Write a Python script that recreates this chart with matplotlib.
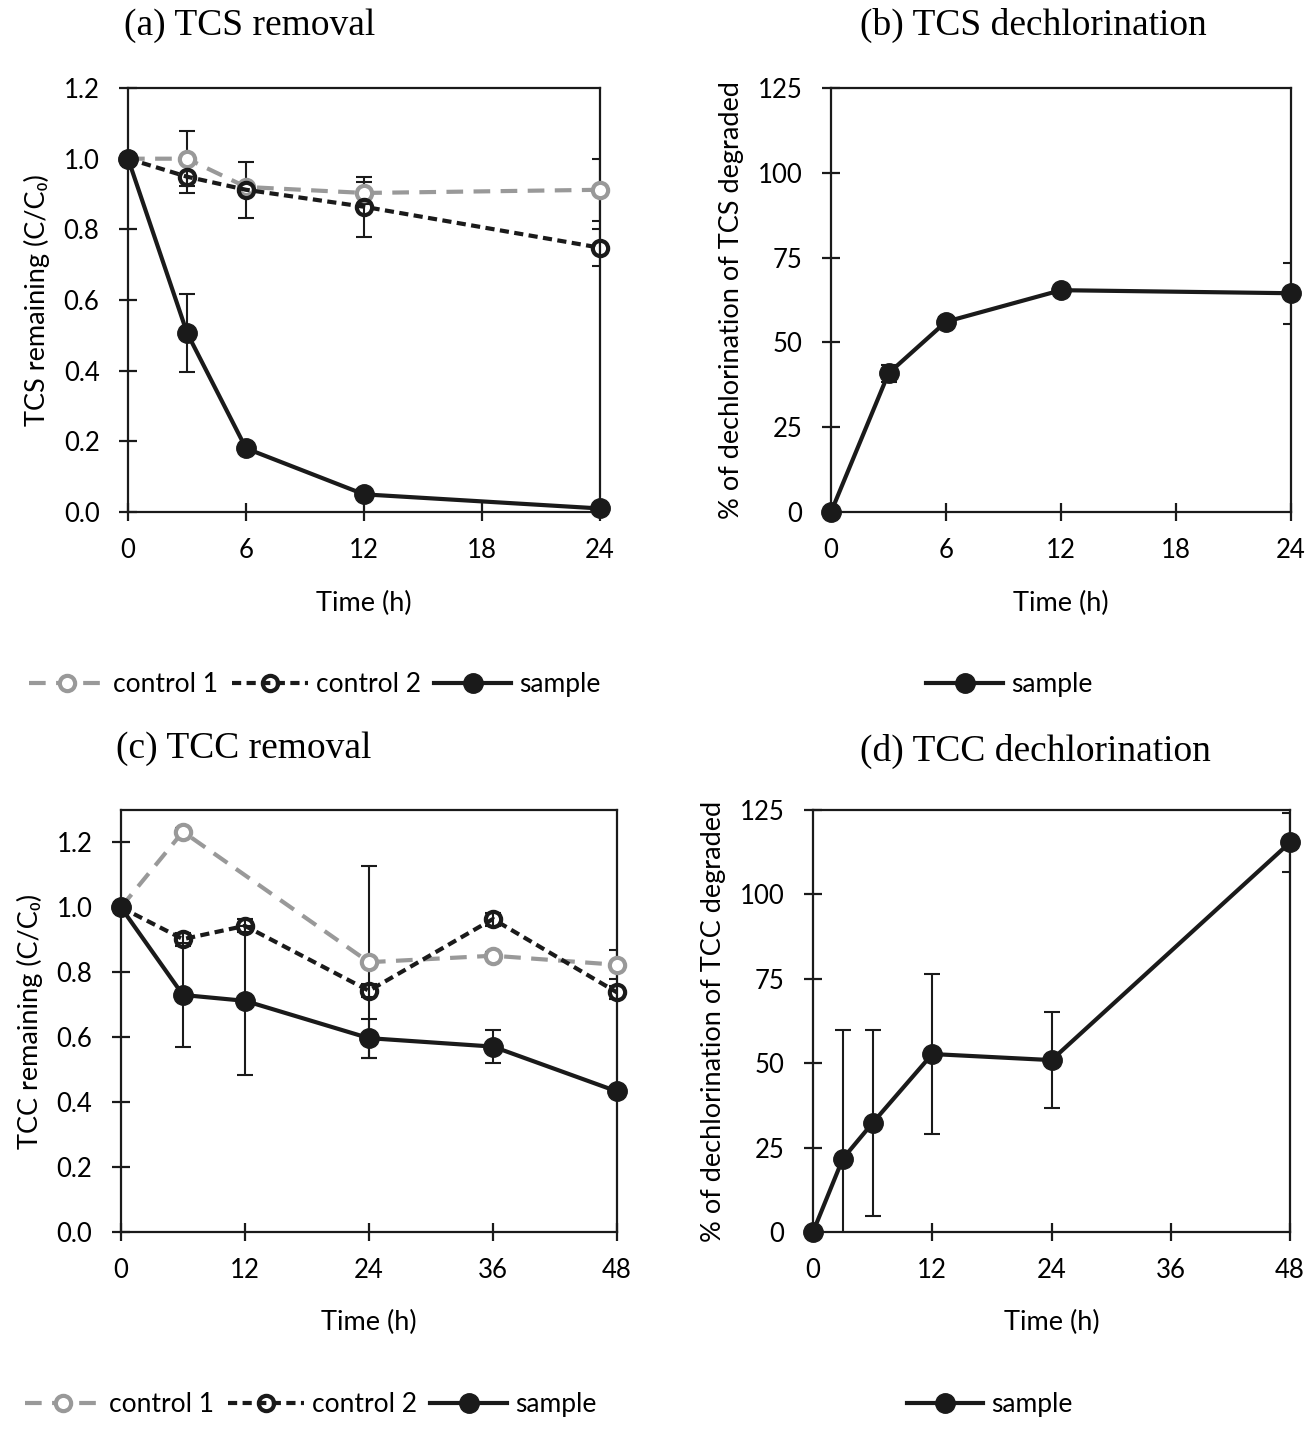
import matplotlib.pyplot as plt
import numpy as np

# ---------------- data ----------------
tcs_time = [0, 3, 6, 12, 24]
tcs_ctrl1 = [1.0, 1.0, 0.92, 0.903, 0.912]
tcs_ctrl1_err = [0, 0.078, 0.01, 0.031, 0.087]
tcs_ctrl2 = [1.0, 0.949, 0.912, 0.864, 0.748]
tcs_ctrl2_err = [0, 0.045, 0.08, 0.085, 0.052]
tcs_sample = [1.0, 0.507, 0.18, 0.05, 0.01]
tcs_sample_err = [0, 0.11, 0.01, 0.01, 0.005]

tcs_dechl = [0, 40.9, 56.1, 65.4, 64.5]
tcs_dechl_err = [0, 2.5, 1.5, 1.0, 9.0]

tcc_time = [0, 6, 12, 24, 36, 48]
tcc_ctrl1_time = [0, 6, 24, 36, 48]
tcc_ctrl1 = [1.0, 1.233, 0.831, 0.851, 0.823]
tcc_ctrl1_err = [0, 0.01, 0.296, 0.01, 0.045]
tcc_ctrl2 = [1.0, 0.902, 0.943, 0.743, 0.964, 0.738]
tcc_ctrl2_err = [0, 0.02, 0.02, 0.02, 0.02, 0.02]
tcc_sample = [1.0, 0.730, 0.712, 0.597, 0.571, 0.433]
tcc_sample_err = [0, 0.16, 0.23, 0.06, 0.052, 0.01]

tcc_dechl_time = [0, 3, 6, 12, 24, 48]
tcc_dechl = [0, 21.7, 32.3, 52.7, 50.9, 115.4]
tcc_dechl_err = [0, 38.1, 27.5, 23.8, 14.2, 8.8]

# ---------------- style ----------------
plt.rcParams['font.family'] = ['Lato', 'DejaVu Sans']
plt.rcParams['font.size'] = 18
GRAY = '#999999'
BLACK = '#1a1a1a'
serif = ['Liberation Serif', 'DejaVu Serif']

fig = plt.figure(figsize=(13.16, 14.29), dpi=100)

ax_a = fig.add_axes([0.0973, 0.6417, 0.3587, 0.2967])
ax_b = fig.add_axes([0.6315, 0.6417, 0.3495, 0.2967])
ax_c = fig.add_axes([0.0919, 0.1379, 0.3769, 0.2953])
ax_d = fig.add_axes([0.6178, 0.1379, 0.3625, 0.2953])


def style_axes(ax):
    for s in ax.spines.values():
        s.set_linewidth(1.6)
        s.set_color(BLACK)
    ax.tick_params(direction='inout', length=13, width=1.6, color=BLACK,
                   labelsize=18.5)
    ax.tick_params(axis='y', pad=14)
    ax.tick_params(axis='x', pad=12)


def errs(ax, t, y, e):
    ax.errorbar(t, y, yerr=e, fmt='none', ecolor=BLACK, elinewidth=1.5,
                capsize=6, capthick=1.5, zorder=2)


def ctrl1(ax, t, y, e):
    errs(ax, t, y, e)
    ax.plot(t, y, color=GRAY, lw=3, dashes=(4, 2.5),
            marker='o', ms=11, mfc='white', mec=GRAY, mew=3,
            clip_on=False, label='control 1', zorder=3)


def ctrl2(ax, t, y, e):
    errs(ax, t, y, e)
    ax.plot(t, y, color=BLACK, lw=3, dashes=(2.2, 1.3),
            marker='o', ms=11, mfc='none', mec=BLACK, mew=3,
            clip_on=False, label='control 2', zorder=4)


def sample(ax, t, y, e):
    errs(ax, t, y, e)
    ax.plot(t, y, color=BLACK, lw=3,
            marker='o', ms=14, mfc=BLACK, mec=BLACK,
            clip_on=False, label='sample', zorder=5)


# (a)
ctrl1(ax_a, tcs_time, tcs_ctrl1, tcs_ctrl1_err)
ctrl2(ax_a, tcs_time, tcs_ctrl2, tcs_ctrl2_err)
sample(ax_a, tcs_time, tcs_sample, tcs_sample_err)
ax_a.set_xlim(0, 24)
ax_a.set_ylim(0, 1.2)
ax_a.set_xticks([0, 6, 12, 18, 24])
ax_a.set_yticks(np.arange(0, 1.21, 0.2))
ax_a.yaxis.set_major_formatter(plt.FormatStrFormatter('%.1f'))
ax_a.set_xlabel('Time (h)', fontsize=19.5, labelpad=20)
ax_a.set_ylabel('TCS remaining (C/C₀)', fontsize=19.5, labelpad=10)
style_axes(ax_a)

# (b)
sample(ax_b, tcs_time, tcs_dechl, tcs_dechl_err)
ax_b.set_xlim(0, 24)
ax_b.set_ylim(0, 125)
ax_b.set_xticks([0, 6, 12, 18, 24])
ax_b.set_yticks([0, 25, 50, 75, 100, 125])
ax_b.set_xlabel('Time (h)', fontsize=19.5, labelpad=20)
ax_b.set_ylabel('% of dechlorination of TCS degraded', fontsize=19.5, labelpad=10)
style_axes(ax_b)

# (c)
ctrl1(ax_c, tcc_ctrl1_time, tcc_ctrl1, tcc_ctrl1_err)
ctrl2(ax_c, tcc_time, tcc_ctrl2, tcc_ctrl2_err)
sample(ax_c, tcc_time, tcc_sample, tcc_sample_err)
ax_c.set_xlim(0, 48)
ax_c.set_ylim(0, 1.3)
ax_c.set_xticks([0, 12, 24, 36, 48])
ax_c.set_yticks(np.arange(0, 1.21, 0.2))
ax_c.yaxis.set_major_formatter(plt.FormatStrFormatter('%.1f'))
ax_c.set_xlabel('Time (h)', fontsize=19.5, labelpad=20)
ax_c.set_ylabel('TCC remaining (C/C₀)', fontsize=19.5, labelpad=10)
style_axes(ax_c)

# (d)
sample(ax_d, tcc_dechl_time, tcc_dechl, tcc_dechl_err)
ax_d.set_xlim(0, 48)
ax_d.set_ylim(0, 125)
ax_d.set_xticks([0, 12, 24, 36, 48])
ax_d.set_yticks([0, 25, 50, 75, 100, 125])
ax_d.set_xlabel('Time (h)', fontsize=19.5, labelpad=20)
ax_d.set_ylabel('% of dechlorination of TCC degraded', fontsize=19.5, labelpad=10)
style_axes(ax_d)

# titles
fig.text(0.190, 0.982, '(a) TCS removal', family=serif, fontsize=27, ha='center', va='center')
fig.text(0.785, 0.982, '(b) TCS dechlorination', family=serif, fontsize=27, ha='center', va='center')
fig.text(0.185, 0.476, '(c) TCC removal', family=serif, fontsize=27, ha='center', va='center')
fig.text(0.787, 0.474, '(d) TCC dechlorination', family=serif, fontsize=27, ha='center', va='center')

# legends
for ax, x, y in [(ax_a, 0.239, 0.521), (ax_b, 0.767, 0.521),
                 (ax_c, 0.236, 0.017), (ax_d, 0.752, 0.017)]:
    h, l = ax.get_legend_handles_labels()
    fig.legend(h, l, loc='center', bbox_to_anchor=(x, y), ncol=3, frameon=False,
               fontsize=19, handlelength=2.9, handletextpad=0.3, columnspacing=0.5)

fig.savefig('out.png', dpi=100)
